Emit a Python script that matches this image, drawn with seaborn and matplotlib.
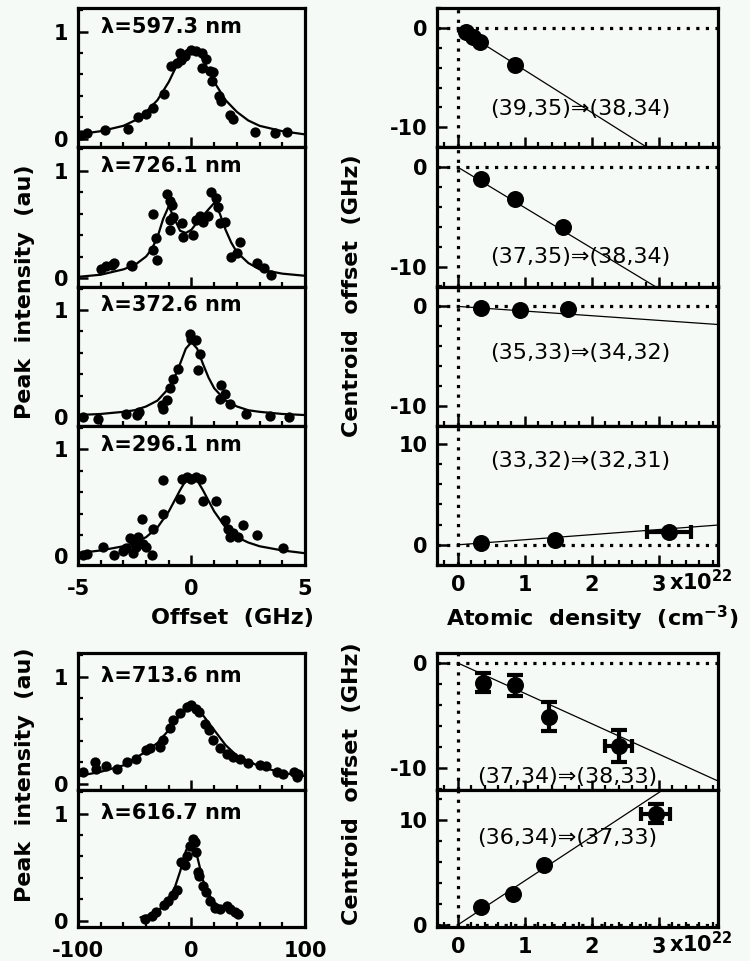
import numpy as np
import pandas as pd
import matplotlib
matplotlib.use("Agg")
import matplotlib.pyplot as plt
import seaborn as sns
from matplotlib.ticker import MultipleLocator, FixedLocator

# ---------------- data ----------------
# Left top: peak intensity vs offset (GHz)
lam_top = ["λ=597.3 nm", "λ=726.1 nm", "λ=372.6 nm", "λ=296.1 nm"]

p1_x = [-4.85, -4.6, -3.8, -2.8, -2.35, -2.0, -1.7, -1.2, -0.9, -0.66, -0.5, -0.3, -0.45,
        0.0, 0.2, 0.45, 0.66, 0.45, 0.8, 0.95, 0.9, 1.2, 1.3, 1.7, 1.85, 2.8, 3.7, 4.2]
p1_y = [0.03, 0.05, 0.08, 0.09, 0.2, 0.23, 0.29, 0.42, 0.68, 0.71, 0.8, 0.77, 0.73,
        0.83, 0.82, 0.8, 0.74, 0.66, 0.63, 0.62, 0.54, 0.4, 0.35, 0.22, 0.18, 0.06, 0.05, 0.06]
p1_fit_x = [-5, -4, -3, -2.5, -2, -1.5, -1, -0.75, -0.5, -0.25, 0, 0.25, 0.5, 0.75, 1, 1.5, 2, 2.5, 3, 4, 5]
p1_fit_y = [0.04, 0.07, 0.12, 0.17, 0.25, 0.36, 0.53, 0.64, 0.74, 0.82, 0.85,
            0.82, 0.74, 0.64, 0.53, 0.36, 0.25, 0.17, 0.12, 0.07, 0.04]

p2_x = [-3.97, -3.75, -3.5, -3.4, -2.65, -2.6, -1.7, -1.7, -1.55, -1.5, -1.1, -0.96, -0.88, -0.96,
        -0.96, -0.8, -0.44, -0.37, 0.07, 0.22, 0.37, 0.5, 0.74, 0.88, 1.1, 1.18, 1.25, 1.47,
        1.76, 2.0, 2.13, 2.87, 3.2, 3.5]
p2_y = [0.08, 0.11, 0.12, 0.14, 0.12, 0.11, 0.26, 0.6, 0.37, 0.17, 0.78, 0.72, 0.68, 0.54,
        0.45, 0.57, 0.51, 0.38, 0.4, 0.54, 0.58, 0.52, 0.58, 0.8, 0.75, 0.66, 0.51, 0.52,
        0.2, 0.23, 0.34, 0.14, 0.09, 0.03]
p2_fit_x = [-5, -4, -3, -2.5, -2, -1.75, -1.5, -1.25, -1.0, -0.75, -0.5, -0.25, 0, 0.25, 0.5,
            0.75, 1.0, 1.25, 1.5, 1.75, 2.0, 2.5, 3, 4, 5]
p2_fit_y = [0.01, 0.03, 0.08, 0.12, 0.2, 0.27, 0.38, 0.55, 0.67, 0.55, 0.44, 0.42, 0.45, 0.52, 0.58,
            0.64, 0.7, 0.6, 0.45, 0.33, 0.24, 0.14, 0.08, 0.04, 0.02]

p3_x = [-4.8, -4.1, -2.9, -2.4, -2.3, -1.3, -1.25, -1.1, -0.96, -0.8, -0.6, -0.07, 0.0, 0.22,
        0.37, 0.3, 1.32, 1.47, 1.25, 1.7, 2.4, 3.45, 4.3]
p3_y = [0.0, -0.02, 0.03, 0.02, 0.05, 0.11, 0.08, 0.16, 0.27, 0.36, 0.45, 0.78, 0.73, 0.72,
        0.59, 0.44, 0.3, 0.22, 0.17, 0.125, 0.03, 0.015, 0.0]
p3_fit_x = p1_fit_x
p3_fit_y = [0.02, 0.03, 0.05, 0.065, 0.1, 0.155, 0.27, 0.37, 0.5, 0.64, 0.7,
            0.64, 0.5, 0.37, 0.27, 0.155, 0.1, 0.065, 0.05, 0.03, 0.02]

p4_x = [-4.8, -4.6, -3.9, -3.4, -3.0, -2.87, -2.72, -2.57, -2.5, -2.43, -2.35, -2.2, -2.13,
        -1.99, -1.76, -1.7, -1.25, -1.25, -0.51, -0.44, -0.22, 0.0, 0.22, 0.44, 0.51, 1.1,
        1.47, 1.62, 1.7, 1.84, 2.06, 2.28, 2.87, 4.04]
p4_y = [0.015, 0.02, 0.09, 0.015, 0.05, 0.08, 0.17, 0.03, 0.12, 0.09, 0.18, 0.35, 0.12,
        0.09, 0.015, 0.26, 0.71, 0.4, 0.54, 0.72, 0.74, 0.72, 0.74, 0.72, 0.52, 0.52,
        0.34, 0.26, 0.18, 0.22, 0.18, 0.29, 0.2, 0.08]
p4_fit_x = p1_fit_x
p4_fit_y = [0.03, 0.056, 0.095, 0.13, 0.18, 0.27, 0.42, 0.52, 0.62, 0.71, 0.74,
            0.71, 0.62, 0.52, 0.42, 0.27, 0.18, 0.13, 0.095, 0.056, 0.03]

# Bottom left: peak intensity vs offset
lam_bot = ["λ=713.6 nm", "λ=616.7 nm"]
b1_x = [-96, -85, -84, -75, -66, -57, -49, -40, -37, -28, -25, -19, -16, -10, -4, 0, 4, 7,
        12, 15, 19, 25, 31, 37, 43, 50, 60, 66, 75, 81, 90, 93, 94]
b1_y = [0.11, 0.2, 0.14, 0.16, 0.14, 0.2, 0.23, 0.31, 0.33, 0.34, 0.41, 0.52, 0.59, 0.66,
        0.72, 0.73, 0.7, 0.67, 0.56, 0.5, 0.41, 0.33, 0.28, 0.25, 0.23, 0.19, 0.17, 0.16,
        0.11, 0.09, 0.11, 0.06, 0.09]
b1_fit_x = [-100, -80, -60, -40, -30, -20, -10, 0, 10, 20, 30, 40, 60, 80, 100]
b1_fit_y = [0.07, 0.11, 0.17, 0.3, 0.38, 0.5, 0.64, 0.72, 0.64, 0.5, 0.36, 0.26, 0.16, 0.1, 0.07]

b2_x = [-41, -35, -31, -24, -21, -16, -13, -9, -6, -4, -1.5, 1.5, 3, 4.4, 6, 7, 10, 13, 16,
        21, 25, 31, 34, 38, 41]
b2_y = [0.015, 0.045, 0.076, 0.15, 0.18, 0.24, 0.29, 0.55, 0.52, 0.6, 0.7, 0.76, 0.73, 0.64,
        0.45, 0.42, 0.32, 0.27, 0.18, 0.12, 0.11, 0.14, 0.11, 0.076, 0.06]
b2_fit_x = [-45, -35, -25, -15, -10, -5, 0, 5, 10, 15, 20, 30, 40, 45]
b2_fit_y = [0.03, 0.06, 0.13, 0.3, 0.46, 0.65, 0.76, 0.6, 0.38, 0.25, 0.17, 0.1, 0.06, 0.05]

# Right: centroid offset (GHz) vs atomic density (1e22 cm^-3)
trans_top = ["(39,35)⇒(38,34)", "(37,35)⇒(38,34)", "(35,33)⇒(34,32)", "(33,32)⇒(32,31)"]
r1_x = [0.12, 0.22, 0.33, 0.85]
r1_y = [-0.4, -0.9, -1.4, -3.7]
r1_fit_x = [0.0, 3.9]
r1_fit_y = [0.0, -16.6]
r2_x = [0.35, 0.85, 1.575]
r2_y = [-1.2, -3.2, -6.0]
r2_fit_x = [0.0, 3.9]
r2_fit_y = [0.0, -15.9]
r3_x = [0.35, 0.925, 1.65]
r3_y = [-0.17, -0.33, -0.23]
r3_fit_x = [0.0, 3.9]
r3_fit_y = [0.0, -1.83]
r4_x = [0.35, 1.45, 3.15]
r4_y = [0.15, 0.5, 1.3]
r4_xerr = [0.0, 0.0, 0.33]
r4_fit_x = [0.0, 3.9]
r4_fit_y = [0.0, 1.97]

trans_bot = ["(37,34)⇒(38,33)", "(36,34)⇒(37,33)"]
r5_x = [0.375, 0.85, 1.36, 2.4]
r5_y = [-1.9, -2.1, -5.1, -7.9]
r5_xerr = [0.0, 0.0, 0.0, 0.2]
r5_yerr = [0.9, 1.0, 1.35, 1.5]
r5_fit_x = [0.0, 3.9]
r5_fit_y = [0.0, -11.3]
r6_x = [0.35, 0.825, 1.285, 2.95]
r6_y = [1.7, 2.9, 5.7, 10.6]
r6_xerr = [0.0, 0.0, 0.0, 0.22]
r6_yerr = [0.0, 0.0, 0.0, 0.9]
r6_fit_x = [0.0, 3.9]
r6_fit_y = [0.0, 16.4]

# ---------------- style ----------------
sns.set_theme(style="ticks")
plt.rcParams["font.family"] = ["DejaVu Sans"]
plt.rcParams["mathtext.default"] = "bf"
for k in ["text.color", "axes.labelcolor", "xtick.color", "ytick.color", "axes.edgecolor"]:
    plt.rcParams[k] = "black"
BG = "#f5faf7"
FS_TICK = 15
FS_LAB = 16

fig = plt.figure(figsize=(7.5, 9.61), dpi=100, facecolor=BG)
W, H = 750.0, 961.0


def rect(x0, x1, y0, y1):
    return [x0 / W, 1 - y1 / H, (x1 - x0) / W, (y1 - y0) / H]


def style_axes(ax):
    ax.set_facecolor(BG)
    for s in ax.spines.values():
        s.set_linewidth(2.3)
        s.set_color("black")
        s.set_visible(True)
    ax.tick_params(which="both", direction="in", top=False, right=False, color="black",
                   labelsize=FS_TICK, labelcolor="black")
    ax.tick_params(which="major", length=7, width=1.8, pad=7)
    ax.tick_params(which="minor", length=3.5, width=1.6)
    for lab in ax.get_xticklabels() + ax.get_yticklabels():
        lab.set_fontweight("bold")
    ax.set_xlabel("")
    ax.set_ylabel("")


def left_panel(ax, px, py, fx, fy, label, xlim, xmaj, xmin, ylim, label_y, show_x):
    sns.lineplot(x=fx, y=fy, ax=ax, color="black", lw=1.6, sort=False, estimator=None)
    sns.scatterplot(x=px, y=py, ax=ax, color="black", s=55, linewidth=0, legend=False)
    ax.set_xlim(*xlim)
    ax.set_ylim(*ylim)
    ax.xaxis.set_major_locator(FixedLocator(xmaj))
    ax.xaxis.set_minor_locator(MultipleLocator(xmin))
    ax.yaxis.set_major_locator(FixedLocator([0, 1]))
    ax.yaxis.set_minor_locator(MultipleLocator(0.2))
    ax.set_yticklabels(["0", "1"])
    style_axes(ax)
    if show_x:
        ax.set_xticklabels([str(v) for v in xmaj])
        ax.tick_params(axis="x", pad=10)
        for lab in ax.get_xticklabels():
            lab.set_fontweight("bold")
    else:
        ax.tick_params(axis="x", labelbottom=False)
    ax.text(0.1, label_y, label, transform=ax.transAxes, ha="left", va="center",
            fontsize=15, fontweight="bold", color="black")


def right_panel(ax, px, py, fx, fy, label, lab_xy, ylim, ymaj, xerr=None, yerr=None, show_x=False):
    ax.set_xlim(-0.31, 3.88)
    ax.set_ylim(*ylim)
    ax.axhline(0, color="black", lw=2.3, ls=(0, (1, 2)), zorder=1)
    ax.axvline(0, color="black", lw=2.3, ls=(0, (1, 2)), zorder=1)
    sns.lineplot(x=fx, y=fy, ax=ax, color="black", lw=0.9, sort=False, estimator=None)
    if xerr is not None or yerr is not None:
        xe = np.array(xerr if xerr is not None else [0.0] * len(px))
        ye = np.array(yerr if yerr is not None else [0.0] * len(px))
        xa, ya = np.array(px), np.array(py)
        mx = xe > 0
        if mx.any():
            ax.errorbar(xa[mx], ya[mx], xerr=xe[mx], fmt="none", ecolor="black",
                        elinewidth=3, capsize=5, capthick=3, zorder=3)
        my = ye > 0
        if my.any():
            ax.errorbar(xa[my], ya[my], yerr=ye[my], fmt="none", ecolor="black",
                        elinewidth=3, capsize=6, capthick=3, zorder=3)
    sns.scatterplot(x=px, y=py, ax=ax, color="black", s=150, linewidth=0, legend=False, zorder=4)
    ax.xaxis.set_major_locator(FixedLocator([0, 1, 2, 3]))
    ax.xaxis.set_minor_locator(MultipleLocator(0.2))
    ax.yaxis.set_major_locator(FixedLocator(ymaj))
    ax.yaxis.set_minor_locator(MultipleLocator(2))
    ax.set_yticklabels([str(v) for v in ymaj])
    style_axes(ax)
    if show_x:
        ax.set_xticklabels(["0", "1", "2", "3"])
        for lab in ax.get_xticklabels():
            lab.set_fontweight("bold")
        ax.annotate(r"x10$^{22}$", xy=(3, 0), xycoords=("data", "axes fraction"),
                    xytext=(7, -18.5), textcoords="offset points", ha="left", va="baseline",
                    fontsize=FS_TICK, fontweight="bold", color="black")
    else:
        ax.tick_params(axis="x", labelbottom=False)
    ax.text(lab_xy[0], lab_xy[1], label, ha="center", va="center", fontsize=16, color="black")


# ---------------- layout ----------------
ph = (565 - 8) / 4.0
left_data = [(p1_x, p1_y, p1_fit_x, p1_fit_y), (p2_x, p2_y, p2_fit_x, p2_fit_y),
             (p3_x, p3_y, p3_fit_x, p3_fit_y), (p4_x, p4_y, p4_fit_x, p4_fit_y)]
for i, (px, py, fx, fy) in enumerate(left_data):
    ax = fig.add_axes(rect(78, 305, 8 + i * ph, 8 + (i + 1) * ph))
    left_panel(ax, px, py, fx, fy, lam_top[i], (-5, 5), [-5, 0, 5], 1, (-0.08, 1.22),
               0.865, i == 3)

bh = (927 - 653) / 2.0
bot_data = [(b1_x, b1_y, b1_fit_x, b1_fit_y), (b2_x, b2_y, b2_fit_x, b2_fit_y)]
for i, (px, py, fx, fy) in enumerate(bot_data):
    ax = fig.add_axes(rect(78, 305, 653 + i * bh, 653 + (i + 1) * bh))
    left_panel(ax, px, py, fx, fy, lam_bot[i], (-100, 100), [-100, 0, 100], 20, (-0.06, 1.22),
               0.83, i == 1)

rp = [
    (r1_x, r1_y, r1_fit_x, r1_fit_y, (1.82, -8.2), (-12, 2), [0, -10], None, None),
    (r2_x, r2_y, r2_fit_x, r2_fit_y, (1.82, -9.0), (-12, 2), [0, -10], None, None),
    (r3_x, r3_y, r3_fit_x, r3_fit_y, (1.82, -4.7), (-12, 2), [0, -10], None, None),
    (r4_x, r4_y, r4_fit_x, r4_fit_y, (1.82, 8.3), (-2, 11.8), [0, 10], r4_xerr, None),
]
for i, (px, py, fx, fy, lxy, yl, ym, xe, ye) in enumerate(rp):
    ax = fig.add_axes(rect(437, 718, 8 + i * ph, 8 + (i + 1) * ph))
    right_panel(ax, px, py, fx, fy, trans_top[i], lxy, yl, ym, xe, ye, show_x=(i == 3))

rb = [
    (r5_x, r5_y, r5_fit_x, r5_fit_y, (1.63, -10.9), (-12.1, 0.95), [0, -10], r5_xerr, r5_yerr),
    (r6_x, r6_y, r6_fit_x, r6_fit_y, (1.63, 8.3), (-0.2, 12.85), [0, 10], r6_xerr, r6_yerr),
]
for i, (px, py, fx, fy, lxy, yl, ym, xe, ye) in enumerate(rb):
    ax = fig.add_axes(rect(437, 718, 653 + i * bh, 653 + (i + 1) * bh))
    right_panel(ax, px, py, fx, fy, trans_bot[i], lxy, yl, ym, xe, ye, show_x=(i == 1))

# axis titles
kw = dict(ha="center", va="center", fontsize=FS_LAB, fontweight="bold", color="black")
fig.text(25 / W, 1 - 292 / H, "Peak  intensity  (au)", rotation=90, **kw)
fig.text(25 / W, 1 - 775 / H, "Peak  intensity  (au)", rotation=90, **kw)
fig.text(352 / W, 1 - 296 / H, "Centroid  offset  (GHz)", rotation=90, **kw)
fig.text(352 / W, 1 - 784 / H, "Centroid  offset  (GHz)", rotation=90, **kw)
fig.text(232 / W, 1 - 618 / H, "Offset  (GHz)", **kw)
fig.text(592 / W, 1 - 618 / H, r"Atomic  density  (cm$^{-3}$)", **kw)

fig.savefig("out.png", dpi=100, facecolor=BG)
